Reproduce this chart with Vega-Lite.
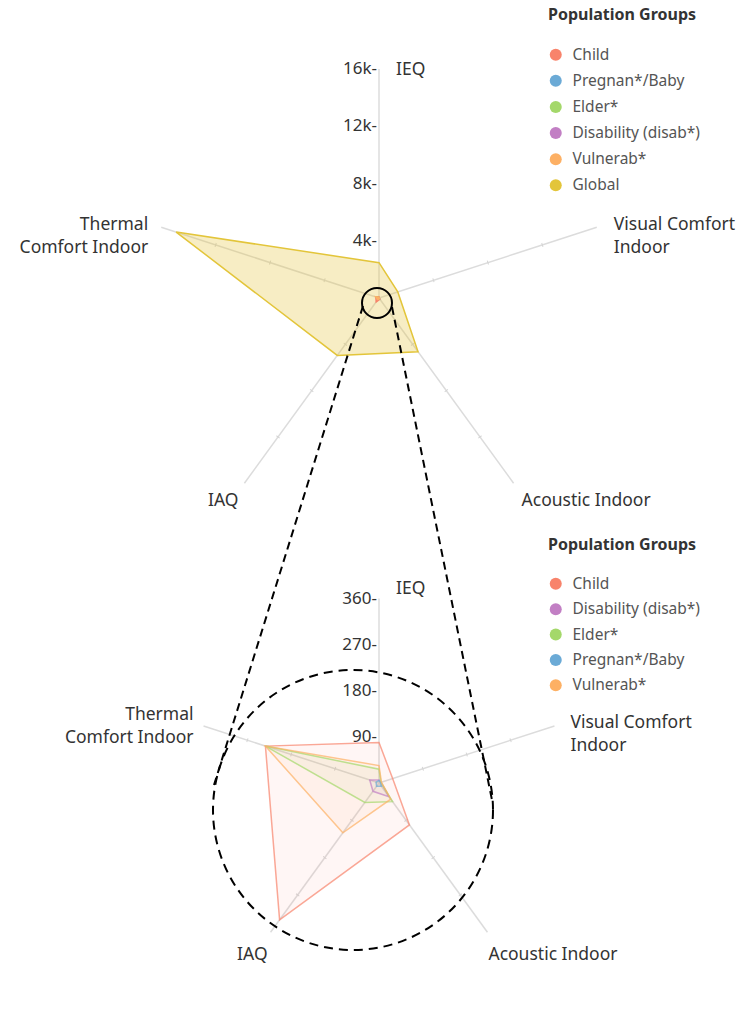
{
  "$schema": "https://vega.github.io/schema/vega-lite/v6.json",
  "width": 754,
  "height": 1014,
  "autosize": {"type": "fit", "contains": "padding"},
  "padding": 0,
  "background": "white",
  "config": {"view": {"stroke": null}, "font": "Noto Sans"},
  "datasets": {
    "vals": [
      {"group": "Global", "axis": "IEQ", "value": 2470},
      {"group": "Global", "axis": "Visual Comfort Indoor", "value": 1380},
      {"group": "Global", "axis": "Acoustic Indoor", "value": 4640},
      {"group": "Global", "axis": "IAQ", "value": 4960},
      {"group": "Global", "axis": "Thermal Comfort Indoor", "value": 14900},
      {"group": "Child", "axis": "IEQ", "value": 79},
      {"group": "Child", "axis": "Visual Comfort Indoor", "value": 28},
      {"group": "Child", "axis": "Acoustic Indoor", "value": 101},
      {"group": "Child", "axis": "IAQ", "value": 330},
      {"group": "Child", "axis": "Thermal Comfort Indoor", "value": 233},
      {"group": "Disability (disab*)", "axis": "IEQ", "value": 6},
      {"group": "Disability (disab*)", "axis": "Visual Comfort Indoor", "value": 4},
      {"group": "Disability (disab*)", "axis": "Acoustic Indoor", "value": 33},
      {"group": "Disability (disab*)", "axis": "IAQ", "value": 20},
      {"group": "Disability (disab*)", "axis": "Thermal Comfort Indoor", "value": 19},
      {"group": "Elder*", "axis": "IEQ", "value": 27},
      {"group": "Elder*", "axis": "Visual Comfort Indoor", "value": 4},
      {"group": "Elder*", "axis": "Acoustic Indoor", "value": 45},
      {"group": "Elder*", "axis": "IAQ", "value": 47},
      {"group": "Elder*", "axis": "Thermal Comfort Indoor", "value": 233},
      {"group": "Pregnan*/Baby", "axis": "IEQ", "value": 5},
      {"group": "Pregnan*/Baby", "axis": "Visual Comfort Indoor", "value": 3},
      {"group": "Pregnan*/Baby", "axis": "Acoustic Indoor", "value": 8},
      {"group": "Pregnan*/Baby", "axis": "IAQ", "value": 8},
      {"group": "Pregnan*/Baby", "axis": "Thermal Comfort Indoor", "value": 6},
      {"group": "Vulnerab*", "axis": "IEQ", "value": 34},
      {"group": "Vulnerab*", "axis": "Visual Comfort Indoor", "value": 5},
      {"group": "Vulnerab*", "axis": "Acoustic Indoor", "value": 39},
      {"group": "Vulnerab*", "axis": "IAQ", "value": 120},
      {"group": "Vulnerab*", "axis": "Thermal Comfort Indoor", "value": 233}
    ],
    "axes": [
      {"chart": "top", "axis": "IEQ", "label": "IEQ"},
      {"chart": "top", "axis": "Visual Comfort Indoor", "label": "Visual Comfort\nIndoor"},
      {"chart": "top", "axis": "Acoustic Indoor", "label": "Acoustic Indoor"},
      {"chart": "top", "axis": "IAQ", "label": "IAQ"},
      {"chart": "top", "axis": "Thermal Comfort Indoor", "label": "Thermal\nComfort Indoor"},
      {"chart": "bottom", "axis": "IEQ", "label": "IEQ"},
      {"chart": "bottom", "axis": "Visual Comfort Indoor", "label": "Visual Comfort\nIndoor"},
      {"chart": "bottom", "axis": "Acoustic Indoor", "label": "Acoustic Indoor"},
      {"chart": "bottom", "axis": "IAQ", "label": "IAQ"},
      {"chart": "bottom", "axis": "Thermal Comfort Indoor", "label": "Thermal\nComfort Indoor"}
    ],
    "ticks": [
      {"chart": "top", "value": 4000, "text": "4k-"},
      {"chart": "top", "value": 8000, "text": "8k-"},
      {"chart": "top", "value": 12000, "text": "12k-"},
      {"chart": "top", "value": 16000, "text": "16k-"},
      {"chart": "bottom", "value": 90, "text": "90-"},
      {"chart": "bottom", "value": 180, "text": "180-"},
      {"chart": "bottom", "value": 270, "text": "270-"},
      {"chart": "bottom", "value": 360, "text": "360-"}
    ],
    "callout": [
      {"part": "ring", "chart": "top"},
      {"part": "ring", "chart": "bottom"},
      {"part": "link", "side": "left"},
      {"part": "link", "side": "right"}
    ]
  },
  "layer": [
    {
      "data": {"name": "axes"},
      "transform": [
        {"calculate": "indexof(['IEQ','Visual Comfort Indoor','Acoustic Indoor','IAQ','Thermal Comfort Indoor'], datum.axis) * 2 * PI / 5", "as": "phi"},
        {"calculate": "datum.chart === 'top' ? 298 : 783", "as": "cy"},
        {"calculate": "datum.chart === 'top' ? 229 : 184.5", "as": "R"},
        {"calculate": "379", "as": "cx"},
        {"calculate": "datum.cx + datum.R * sin(datum.phi)", "as": "ex"},
        {"calculate": "datum.cy - datum.R * cos(datum.phi)", "as": "ey"}
      ],
      "mark": {"type": "rule", "color": "#dcdcdc", "strokeWidth": 1.5},
      "encoding": {
        "x": {"field": "cx", "type": "quantitative", "scale": {"domain": [0, 754], "nice": false, "zero": false}, "axis": null},
        "y": {"field": "cy", "type": "quantitative", "scale": {"domain": [0, 1014], "nice": false, "zero": false, "reverse": true}, "axis": null},
        "x2": {"field": "ex"},
        "y2": {"field": "ey"}
      }
    },
    {
      "data": {"name": "ticks"},
      "transform": [
        {"calculate": "['Visual Comfort Indoor','Acoustic Indoor','IAQ','Thermal Comfort Indoor']", "as": "axis"},
        {"flatten": ["axis"]},
        {"calculate": "datum.chart === 'top' ? 16000 : 360", "as": "mx"},
        {"filter": "datum.value < datum.mx"},
        {"calculate": "indexof(['IEQ','Visual Comfort Indoor','Acoustic Indoor','IAQ','Thermal Comfort Indoor'], datum.axis) * 2 * PI / 5", "as": "phi"},
        {"calculate": "datum.chart === 'top' ? 298 : 783", "as": "cy"},
        {"calculate": "datum.chart === 'top' ? 229 : 184.5", "as": "R"},
        {"calculate": "datum.value / datum.mx * datum.R", "as": "r"},
        {"calculate": "379 + datum.r * sin(datum.phi)", "as": "px"},
        {"calculate": "datum.cy - datum.r * cos(datum.phi)", "as": "py"},
        {"calculate": "datum.phi * 180 / PI + 90", "as": "deg"}
      ],
      "mark": {"type": "point", "shape": "M0,-1L0,1", "size": 16, "filled": false, "color": "#d4d4d4", "strokeWidth": 1, "opacity": 1},
      "encoding": {
        "x": {"field": "px", "type": "quantitative", "scale": {"domain": [0, 754], "nice": false, "zero": false}, "axis": null},
        "y": {"field": "py", "type": "quantitative", "scale": {"domain": [0, 1014], "nice": false, "zero": false, "reverse": true}, "axis": null},
        "angle": {"field": "deg", "type": "quantitative", "scale": null}
      }
    },
    {
      "data": {"name": "vals"},
      "transform": [
        {"calculate": "indexof(['IEQ','Visual Comfort Indoor','Acoustic Indoor','IAQ','Thermal Comfort Indoor'], datum.axis) * 2 * PI / 5", "as": "phi"},
        {"calculate": "datum.value / 16000 * 229", "as": "r"},
        {"calculate": "379 + datum.r * sin(datum.phi)", "as": "px"},
        {"calculate": "298 - datum.r * cos(datum.phi)", "as": "py"}
      ],
      "encoding": {
        "x": {"field": "px", "type": "quantitative", "scale": {"domain": [0, 754], "nice": false, "zero": false}, "axis": null},
        "y": {"field": "py", "type": "quantitative", "scale": {"domain": [0, 1014], "nice": false, "zero": false, "reverse": true}, "axis": null},
        "order": {"field": "phi", "type": "quantitative"},
        "color": {
          "field": "group",
          "type": "nominal",
          "scale": {
            "domain": ["Child", "Pregnan*/Baby", "Elder*", "Disability (disab*)", "Vulnerab*", "Global"],
            "range": ["#F8836B", "#6BAAD6", "#A4D86A", "#C27FC4", "#FDB064", "#E3C53A"]
          },
          "legend": {
            "title": "Population Groups",
            "orient": "none",
            "legendX": 548,
            "legendY": 7,
            "direction": "vertical",
            "symbolType": "circle",
            "symbolSize": 144,
            "titleFontSize": 16,
            "titleFontWeight": "bold",
            "titleColor": "#333333",
            "titleFont": "Noto Sans",
            "titlePadding": 24,
            "labelFontSize": 15.5,
            "labelColor": "#555555",
            "labelFont": "Noto Sans",
            "labelOffset": 9,
            "rowPadding": 9.1,
            "padding": 0,
            "encode": {"symbols": {"update": {"fillOpacity": {"value": 1}, "strokeWidth": {"value": 0}, "opacity": {"value": 1}}}}
          }
        }
      },
      "layer": [
        {"mark": {"type": "line", "filled": true, "interpolate": "linear-closed", "fillOpacity": 0.3, "strokeWidth": 0}},
        {"mark": {"type": "line", "interpolate": "linear-closed", "strokeWidth": 1.5}}
      ]
    },
    {
      "data": {"name": "vals"},
      "transform": [
        {"filter": "datum.group !== 'Global'"},
        {"calculate": "indexof(['IEQ','Visual Comfort Indoor','Acoustic Indoor','IAQ','Thermal Comfort Indoor'], datum.axis) * 2 * PI / 5", "as": "phi"},
        {"calculate": "datum.value / 360 * 184.5", "as": "r"},
        {"calculate": "379 + datum.r * sin(datum.phi)", "as": "px"},
        {"calculate": "783 - datum.r * cos(datum.phi)", "as": "py"}
      ],
      "encoding": {
        "x": {"field": "px", "type": "quantitative", "scale": {"domain": [0, 754], "nice": false, "zero": false}, "axis": null},
        "y": {"field": "py", "type": "quantitative", "scale": {"domain": [0, 1014], "nice": false, "zero": false, "reverse": true}, "axis": null},
        "order": {"field": "phi", "type": "quantitative"},
        "color": {
          "field": "group",
          "type": "nominal",
          "scale": {
            "domain": ["Child", "Disability (disab*)", "Elder*", "Pregnan*/Baby", "Vulnerab*"],
            "range": ["#F8836B", "#C27FC4", "#A4D86A", "#6BAAD6", "#FDB064"]
          },
          "legend": {
            "title": "Population Groups",
            "orient": "none",
            "legendX": 548,
            "legendY": 537,
            "direction": "vertical",
            "symbolType": "circle",
            "symbolSize": 144,
            "titleFontSize": 16,
            "titleFontWeight": "bold",
            "titleColor": "#333333",
            "titleFont": "Noto Sans",
            "titlePadding": 23,
            "labelFontSize": 15.5,
            "labelColor": "#555555",
            "labelFont": "Noto Sans",
            "labelOffset": 9,
            "rowPadding": 8.4,
            "padding": 0,
            "encode": {"symbols": {"update": {"fillOpacity": {"value": 1}, "strokeWidth": {"value": 0}, "opacity": {"value": 1}}}}
          }
        }
      },
      "layer": [
        {"mark": {"type": "line", "filled": true, "interpolate": "linear-closed", "fillOpacity": 0.07, "strokeWidth": 0}},
        {"mark": {"type": "line", "interpolate": "linear-closed", "strokeWidth": 1.5, "strokeOpacity": 0.7}}
      ]
    },
    {
      "data": {"name": "ticks"},
      "transform": [
        {"calculate": "datum.chart === 'top' ? 16000 : 360", "as": "mx"},
        {"calculate": "datum.chart === 'top' ? 298 : 783", "as": "cy"},
        {"calculate": "datum.chart === 'top' ? 229 : 184.5", "as": "R"},
        {"calculate": "377", "as": "px"},
        {"calculate": "datum.cy - datum.value / datum.mx * datum.R", "as": "py"}
      ],
      "mark": {"type": "text", "align": "right", "baseline": "middle", "fontSize": 17, "color": "#333333", "font": "Noto Sans"},
      "encoding": {
        "x": {"field": "px", "type": "quantitative", "scale": {"domain": [0, 754], "nice": false, "zero": false}, "axis": null},
        "y": {"field": "py", "type": "quantitative", "scale": {"domain": [0, 1014], "nice": false, "zero": false, "reverse": true}, "axis": null},
        "text": {"field": "text", "type": "nominal"}
      }
    },
    {
      "data": {"name": "axes"},
      "transform": [
        {"filter": "indexof(['IEQ','Visual Comfort Indoor','Acoustic Indoor'], datum.axis) >= 0"},
        {"calculate": "indexof(['IEQ','Visual Comfort Indoor','Acoustic Indoor','IAQ','Thermal Comfort Indoor'], datum.axis) * 2 * PI / 5", "as": "phi"},
        {"calculate": "datum.chart === 'top' ? 298 : 783", "as": "cy"},
        {"calculate": "datum.chart === 'top' ? 229 : 184.5", "as": "R"},
        {"calculate": "datum.chart === 'top' ? {'IEQ': 17, 'Visual Comfort Indoor': 17, 'Acoustic Indoor': 8}[datum.axis] : {'IEQ': 17, 'Visual Comfort Indoor': 16, 'Acoustic Indoor': 1}[datum.axis]", "as": "dx"},
        {"calculate": "datum.chart === 'top' ? {'IEQ': 1, 'Visual Comfort Indoor': -2, 'Acoustic Indoor': 18}[datum.axis] : {'IEQ': -10, 'Visual Comfort Indoor': -3, 'Acoustic Indoor': 23}[datum.axis]", "as": "dy"},
        {"calculate": "379 + datum.R * sin(datum.phi) + datum.dx", "as": "lx"},
        {"calculate": "datum.cy - datum.R * cos(datum.phi) + datum.dy", "as": "ly"}
      ],
      "mark": {"type": "text", "align": "left", "baseline": "middle", "fontSize": 17.5, "lineHeight": 23, "lineBreak": "\n", "color": "#333333", "font": "Noto Sans"},
      "encoding": {
        "x": {"field": "lx", "type": "quantitative", "scale": {"domain": [0, 754], "nice": false, "zero": false}, "axis": null},
        "y": {"field": "ly", "type": "quantitative", "scale": {"domain": [0, 1014], "nice": false, "zero": false, "reverse": true}, "axis": null},
        "text": {"field": "label", "type": "nominal"}
      }
    },
    {
      "data": {"name": "axes"},
      "transform": [
        {"filter": "indexof(['IAQ','Thermal Comfort Indoor'], datum.axis) >= 0"},
        {"calculate": "indexof(['IEQ','Visual Comfort Indoor','Acoustic Indoor','IAQ','Thermal Comfort Indoor'], datum.axis) * 2 * PI / 5", "as": "phi"},
        {"calculate": "datum.chart === 'top' ? 298 : 783", "as": "cy"},
        {"calculate": "datum.chart === 'top' ? 229 : 184.5", "as": "R"},
        {"calculate": "datum.chart === 'top' ? {'IAQ': -6, 'Thermal Comfort Indoor': -13}[datum.axis] : {'IAQ': -3, 'Thermal Comfort Indoor': -10}[datum.axis]", "as": "dx"},
        {"calculate": "datum.chart === 'top' ? {'IAQ': 18, 'Thermal Comfort Indoor': -2}[datum.axis] : {'IAQ': 23, 'Thermal Comfort Indoor': -11}[datum.axis]", "as": "dy"},
        {"calculate": "379 + datum.R * sin(datum.phi) + datum.dx", "as": "lx"},
        {"calculate": "datum.cy - datum.R * cos(datum.phi) + datum.dy", "as": "ly"}
      ],
      "mark": {"type": "text", "align": "right", "baseline": "middle", "fontSize": 17.5, "lineHeight": 23, "lineBreak": "\n", "color": "#333333", "font": "Noto Sans"},
      "encoding": {
        "x": {"field": "lx", "type": "quantitative", "scale": {"domain": [0, 754], "nice": false, "zero": false}, "axis": null},
        "y": {"field": "ly", "type": "quantitative", "scale": {"domain": [0, 1014], "nice": false, "zero": false, "reverse": true}, "axis": null},
        "text": {"field": "label", "type": "nominal"}
      }
    },
    {
      "data": {"name": "callout"},
      "transform": [
        {"filter": "datum.part === 'ring' && datum.chart === 'top'"},
        {"calculate": "379 - 2", "as": "px"},
        {"calculate": "298 + 5", "as": "py"}
      ],
      "mark": {"type": "point", "shape": "circle", "size": 900, "filled": false, "color": "#000000", "strokeWidth": 2, "opacity": 1},
      "encoding": {
        "x": {"field": "px", "type": "quantitative", "scale": {"domain": [0, 754], "nice": false, "zero": false}, "axis": null},
        "y": {"field": "py", "type": "quantitative", "scale": {"domain": [0, 1014], "nice": false, "zero": false, "reverse": true}, "axis": null}
      }
    },
    {
      "data": {"name": "callout"},
      "transform": [
        {"filter": "datum.part === 'ring' && datum.chart === 'bottom'"},
        {"calculate": "379 - 26", "as": "px"},
        {"calculate": "783 + 27", "as": "py"}
      ],
      "mark": {"type": "point", "shape": "circle", "size": 78400, "filled": false, "color": "#000000", "strokeWidth": 2, "strokeDash": [9, 6], "opacity": 1},
      "encoding": {
        "x": {"field": "px", "type": "quantitative", "scale": {"domain": [0, 754], "nice": false, "zero": false}, "axis": null},
        "y": {"field": "py", "type": "quantitative", "scale": {"domain": [0, 1014], "nice": false, "zero": false, "reverse": true}, "axis": null}
      }
    },
    {
      "data": {"name": "callout"},
      "transform": [
        {"filter": "datum.part === 'link'"},
        {"calculate": "datum.side === 'left' ? 363 : 392", "as": "x1"},
        {"calculate": "datum.side === 'left' ? 306 : 307", "as": "y1"},
        {"calculate": "datum.side === 'left' ? 214 : 492", "as": "x2"},
        {"calculate": "datum.side === 'left' ? 785 : 800", "as": "y2"}
      ],
      "mark": {"type": "rule", "color": "#000000", "strokeWidth": 2, "strokeDash": [8, 5]},
      "encoding": {
        "x": {"field": "x1", "type": "quantitative", "scale": {"domain": [0, 754], "nice": false, "zero": false}, "axis": null},
        "y": {"field": "y1", "type": "quantitative", "scale": {"domain": [0, 1014], "nice": false, "zero": false, "reverse": true}, "axis": null},
        "x2": {"field": "x2"},
        "y2": {"field": "y2"}
      }
    }
  ],
  "resolve": {"scale": {"color": "independent"}, "legend": {"color": "independent"}}
}
